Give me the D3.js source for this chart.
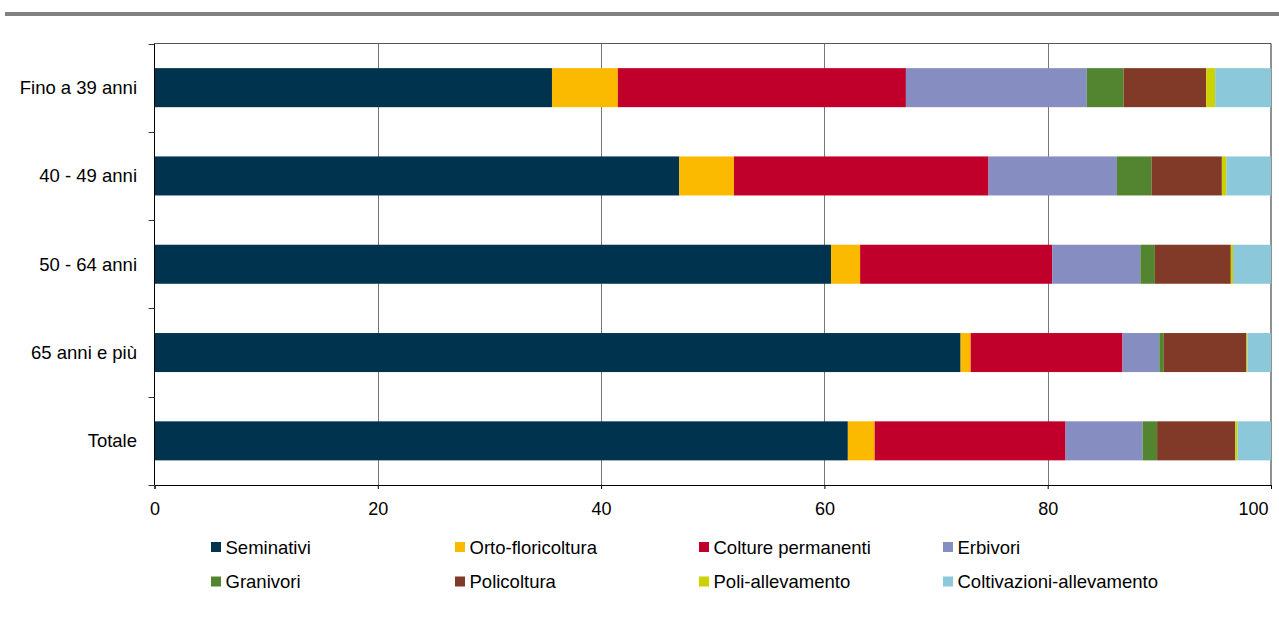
<!DOCTYPE html>
<html><head><meta charset="utf-8">
<script src="https://cdn.jsdelivr.net/npm/d3@7/dist/d3.min.js"></script>
<style>body{margin:0;background:#fff;}svg{display:block;font-family:"Liberation Sans",Arial,sans-serif;}</style>
</head><body>
<script>
const categories = ["Fino a 39 anni","40 - 49 anni","50 - 64 anni","65 anni e più","Totale"];
const seriesNames = ["Seminativi","Orto-floricoltura","Colture permanenti","Erbivori","Granivori","Policoltura","Poli-allevamento","Coltivazioni-allevamento"];
const seminativi = [35.6, 47.0, 60.6, 72.2, 62.1];
const ortoFloricoltura = [5.9, 4.9, 2.6, 0.9, 2.4];
const colturePermanenti = [25.8, 22.8, 17.2, 13.6, 17.1];
const erbivori = [16.2, 11.5, 7.9, 3.3, 6.9];
const granivori = [3.3, 3.1, 1.3, 0.4, 1.3];
const policoltura = [7.4, 6.3, 6.8, 7.4, 7.0];
const poliAllevamento = [0.8, 0.4, 0.2, 0.1, 0.2];
const coltivazioniAllevamento = [5.0, 4.0, 3.4, 2.1, 3.0];
const xTicks = [0, 20, 40, 60, 80, 100];
const colors = ["#00334D","#FBBA00","#C0002A","#868DC0","#538430","#813A28","#CCD200","#8AC8DA"];

const seriesValues = [seminativi, ortoFloricoltura, colturePermanenti, erbivori, granivori, policoltura, poliAllevamento, coltivazioniAllevamento];
const rows = categories.map((c,i)=>{const o={cat:c}; seriesNames.forEach((s,j)=>o[s]=seriesValues[j][i]); return o;});

const W=1279,H=619;
const svg=d3.select("body").append("svg").attr("width",W).attr("height",H);
const L=154.5,R=1271,T=43.5,B=485;
const x=d3.scaleLinear().domain([0,100]).range([L,R]);
const y=d3.scaleBand().domain(categories).range([T,B]).paddingInner(0.558).paddingOuter(0.279);

// top rule
svg.append("rect").attr("x",5).attr("y",12).attr("width",W-5).attr("height",4).attr("fill","#808080");

// gridlines
svg.append("g").selectAll("line").data(xTicks.filter(d=>d>0&&d<100)).join("line")
  .attr("x1",d=>Math.round(x(d))+0.5).attr("x2",d=>Math.round(x(d))+0.5).attr("y1",T).attr("y2",B)
  .attr("stroke","#777").attr("stroke-width",1);
// top & right border
svg.append("line").attr("x1",L).attr("x2",R).attr("y1",T).attr("y2",T).attr("stroke","#555");
svg.append("line").attr("x1",R).attr("x2",R).attr("y1",T).attr("y2",B).attr("stroke","#222");

const stacked=d3.stack().keys(seriesNames)(rows);
svg.append("g").selectAll("g").data(stacked).join("g").attr("fill",(d,i)=>colors[i])
  .selectAll("rect").data(d=>d).join("rect")
  .attr("x",d=>x(d[0])).attr("width",d=>Math.max(0,x(d[1])-x(d[0])))
  .attr("y",d=>y(d.data.cat)).attr("height",y.bandwidth());

// x axis
const xa=svg.append("g").attr("transform",`translate(0,${B})`)
  .call(d3.axisBottom(x).tickValues(xTicks).tickSize(4).tickFormat(d3.format("d")));
xa.select(".domain").attr("stroke","#000");
xa.selectAll(".tick line").attr("stroke","#000");
xa.selectAll("text").attr("font-size","18px").attr("fill","#000").attr("dy","1.28em").attr("font-family","Liberation Sans, Arial, sans-serif");
xa.selectAll(".tick").filter(d=>d===100).select("text").attr("text-anchor","end").attr("dx","-3");

// y axis: ticks at band boundaries
svg.append("line").attr("x1",L).attr("x2",L).attr("y1",T).attr("y2",B).attr("stroke","#000");
const bounds=d3.range(categories.length+1).map(i=>T+i*(B-T)/categories.length);
svg.append("g").selectAll("line").data(bounds).join("line")
  .attr("x1",L-6).attr("x2",L).attr("y1",d=>Math.round(d)+0.5).attr("y2",d=>Math.round(d)+0.5).attr("stroke","#333");
svg.append("g").selectAll("text").data(categories).join("text")
  .attr("x",137).attr("y",d=>y(d)+y.bandwidth()/2).attr("dy","0.35em")
  .attr("text-anchor","end").attr("font-size","18.5px").attr("fill","#000").text(d=>d);

// legend
const legX=[211,455,699,943], legY=[547,581.5];
const lg=svg.append("g").selectAll("g").data(seriesNames).join("g")
  .attr("transform",(d,i)=>`translate(${legX[i%4]},${legY[Math.floor(i/4)]})`);
lg.append("rect").attr("x",0).attr("y",-5).attr("width",10).attr("height",10).attr("fill",(d,i)=>colors[i]);
lg.append("text").attr("x",14.5).attr("y",0).attr("dy","0.36em").attr("font-size","18.5px").attr("fill","#000").text(d=>d);
</script>
</body></html>
